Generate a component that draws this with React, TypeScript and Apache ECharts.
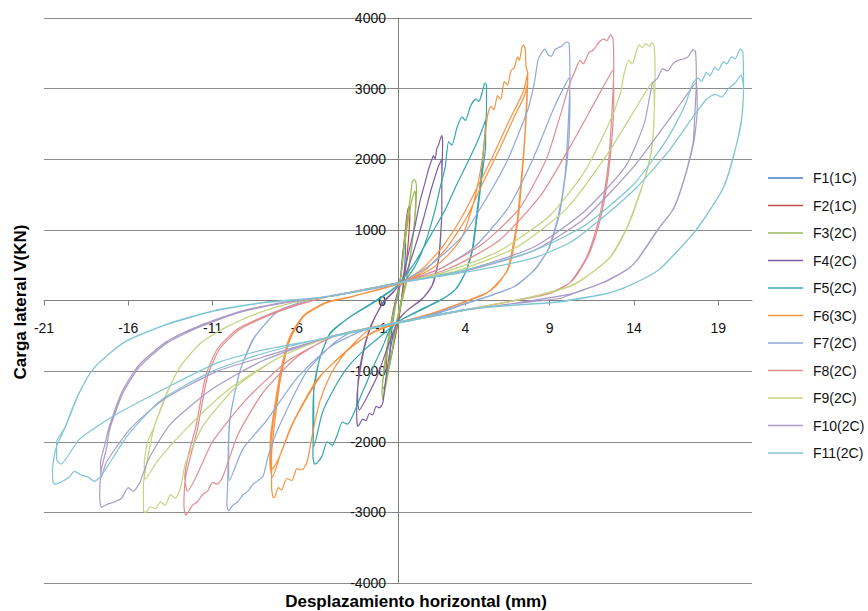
import React, { useEffect, useRef } from "react";
import * as echarts from "echarts";

const xTicks = [-21, -16, -11, -6, -1, 4, 9, 14, 19];
const yMin = -4000;
const yMax = 4000;
const yStep = 1000;

const names = ["F1(1C)", "F2(1C)", "F3(2C)", "F4(2C)", "F5(2C)", "F6(3C)", "F7(2C)", "F8(2C)", "F9(2C)", "F10(2C)", "F11(2C)"];
const colors = ["#4A7EBB", "#BE4B48", "#98B954", "#7D60A0", "#33A6AE", "#F69240", "#8EA9DA", "#E08C90", "#C4D47E", "#A99AC8", "#7FC5D3"];

const f1 = [[0, 0], [0.1, 200], [0.2, 450], [0.3, 700], [0.4, 850], [0.45, 800], [0.4, 500], [0.3, 200], [0.15, -100], [0, -300], [-0.2, -550], [-0.4, -780], [-0.5, -850], [-0.45, -600], [-0.3, -300], [-0.1, 0], [0.1, 220]];

const f2 = [[0, 100], [0.2, 400], [0.35, 800], [0.5, 1150], [0.6, 1300], [0.68, 1330], [0.7, 1200], [0.6, 800], [0.45, 450], [0.25, 100], [0.05, -250], [-0.2, -550], [-0.45, -850], [-0.65, -1050], [-0.7, -950], [-0.6, -650], [-0.4, -300], [-0.15, 0], [0.1, 220]];

const f3 = [[0, 150], [0.2, 400], [0.4, 904], [0.6, 1250], [0.75, 1500], [0.85, 1680], [0.95, 1710], [1.05, 1690], [1.1, 1550], [1.0, 1144], [0.8, 750], [0.6, 438], [0.4, 200], [0.2, 14], [0, -200], [-0.2, -420], [-0.35, -734], [-0.6, -1050], [-0.8, -1300], [-0.9, -1400], [-0.95, -1300], [-0.85, -1050], [-0.65, -750], [-0.5, -500], [-0.3, -250], [-0.1, 0], [0.1, 220],
  [0.3, 600], [0.55, 1050], [0.8, 1400], [1.0, 1550], [1.05, 1450], [0.95, 1050], [0.7, 550], [0.45, 200], [0.2, -50], [0, -250], [-0.3, -650], [-0.6, -1000], [-0.85, -1250], [-0.92, -1200], [-0.8, -900], [-0.55, -500], [-0.3, -200], [-0.05, 50], [0.1, 200]];

const f4 = [[0, 150], [0.2, 250], [0.4, 438], [0.7, 750], [1.0, 1045], [1.3, 1400], [1.6, 1666], [1.8, 1850], [2.0, 1990], [2.1, 2050], [2.2, 2000], [2.3, 2150], [2.4, 2200], [2.5, 2280], [2.6, 2340], [2.65, 2250], [2.6, 1700], [2.6, 1285], [2.4, 579], [2.0, 198], [1.4, 14], [0.5, -150], [0, -280], [-0.3, -500], [-0.6, -900], [-0.8, -1250], [-0.9, -1450], [-1.1, -1520], [-1.3, -1500], [-1.5, -1620], [-1.7, -1600], [-1.9, -1700], [-2.1, -1680], [-2.3, -1760], [-2.4, -1780], [-2.45, -1600], [-2.4, -1257], [-2.1, -790], [-1.8, -500], [-1.5, -310], [-0.9, -28], [-0.3, 120], [0.1, 230],
  [0.5, 400], [1.0, 750], [1.5, 1150], [2.0, 1600], [2.4, 1900], [2.6, 2000], [2.6, 1300], [2.45, 650], [2.1, 250], [1.5, 40], [0.6, -130], [0, -290], [-0.6, -650], [-1.2, -1050], [-1.8, -1350], [-2.3, -1550], [-2.4, -1400], [-2.35, -1100], [-2.05, -700], [-1.6, -350], [-0.9, -40], [-0.3, 110], [0.1, 230]];

const f5 = [[0, 200], [0.3, 250], [0.6, 340], [1.0, 480], [1.4, 678], [1.8, 950], [2.2, 1285], [2.5, 1600], [2.8, 1890], [3.0, 2250], [3.2, 2200], [3.5, 2450], [3.8, 2600], [4.0, 2550], [4.3, 2750], [4.6, 2850], [4.8, 2820], [5.0, 2950], [5.15, 3078], [5.25, 3050], [5.25, 2700], [5.1, 2200], [4.9, 1700], [4.7, 1285], [4.4, 720], [4.0, 395], [3.4, 155], [2.6, 14], [1.5, -120], [0, -300], [-0.5, -420], [-0.9, -650], [-1.3, -850], [-1.7, -1073], [-2.2, -1350], [-2.7, -1638], [-3.0, -1750], [-3.3, -1720], [-3.6, -1900], [-3.9, -2050], [-4.2, -2000], [-4.5, -2200], [-4.8, -2300], [-4.95, -2316], [-5.05, -2200], [-5.0, -1700], [-5.0, -1257], [-4.6, -790], [-4.0, -452], [-2.8, -226], [-1.5, -40], [-0.5, 120], [0, 220],
  [1.0, 536], [2.0, 950], [2.8, 1285], [3.5, 1650], [4.2, 1990], [4.8, 2300], [5.2, 2556], [5.2, 2200], [5.0, 1800], [4.75, 1300], [4.45, 750], [4.05, 420], [3.5, 180], [2.7, 30], [1.5, -110], [0, -300], [-1, -500], [-2, -700], [-3, -950], [-3.8, -1250], [-4.5, -1600], [-5.0, -2070], [-5.05, -1800], [-5.0, -1300], [-4.65, -830], [-4.05, -480], [-2.9, -240], [-1.5, -30], [-0.5, 130], [0, 220]];

const f6 = [[0, 200], [0.3, 250], [1.0, 330], [2.0, 450], [3.0, 650], [3.8, 900], [4.5, 1400], [5.0, 2000], [5.3, 2600], [5.5, 2750], [5.7, 2700], [5.9, 2900], [6.1, 2850], [6.3, 3100], [6.5, 3050], [6.7, 3250], [6.9, 3300], [7.1, 3450], [7.2, 3400], [7.35, 3580], [7.45, 3620], [7.55, 3550], [7.6, 3300], [7.7, 3220], [7.6, 2700], [7.5, 2230], [7.3, 1700], [7.1, 1186], [6.8, 750], [6.5, 438], [5.9, 230], [5.3, 113], [3.8, -28], [2.0, -180], [0, -310], [-1.7, -410], [-2.5, -580], [-3.3, -790], [-4.0, -1050], [-4.6, -1400], [-5.0, -1800], [-5.4, -2290], [-5.7, -2400], [-6.0, -2380], [-6.3, -2550], [-6.6, -2520], [-6.9, -2680], [-7.1, -2650], [-7.3, -2780], [-7.4, -2790], [-7.5, -2650], [-7.5, -2200], [-7.2, -1500], [-6.9, -1020], [-6.4, -550], [-5.6, -226], [-4.2, -28], [-2.7, 56], [-1.0, 170], [0, 230],
  [1.4, 438], [2.6, 750], [3.8, 1186], [4.8, 1650], [5.8, 2132], [6.6, 2550], [7.4, 2937], [7.7, 3220], [7.65, 2800], [7.5, 2200], [7.15, 1200], [6.55, 450], [5.35, 120], [3.8, -30], [2.0, -190], [0, -310], [-1.5, -450], [-2.7, -650], [-4.6, -1073], [-6.2, -1723], [-7.0, -2200], [-7.45, -2500], [-7.6, -2300], [-7.55, -1900], [-7.25, -1400], [-6.95, -980], [-6.45, -530], [-5.6, -210], [-4.2, -20], [-2.7, 60], [0, 230],
  [1.6, 430], [2.9, 750], [4.1, 1186], [5.0, 1650], [6.0, 2132], [6.8, 2550], [7.5, 2900], [7.7, 3100], [7.6, 2600], [7.45, 2100], [7.1, 1150], [6.5, 430], [5.3, 110], [3.8, -35], [2.0, -190], [0, -320], [-1.6, -470], [-2.9, -680], [-4.8, -1120], [-6.3, -1760], [-7.1, -2250], [-7.5, -2400], [-7.55, -2100], [-7.25, -1450], [-6.9, -990], [-6.4, -520], [-5.6, -215], [-4.2, -25], [-2.7, 58], [0, 230]];

const f7 = [[0, 230], [1.8, 480], [3.8, 904], [5.3, 1470], [6.5, 1990], [7.7, 2700], [8.1, 3100], [8.3, 3400], [8.5, 3500], [8.7, 3560], [8.9, 3480], [9.1, 3460], [9.3, 3550], [9.5, 3580], [9.7, 3600], [9.9, 3650], [10.05, 3660], [10.15, 3640], [10.2, 3200], [10.1, 2500], [9.9, 1750], [9.5, 1186], [8.9, 720], [8.1, 438], [6.9, 198], [5.3, 56], [4.0, -40], [2.0, -200], [0, -310], [-1.5, -380], [-2.8, -452], [-3.8, -600], [-4.6, -790], [-5.4, -1000], [-6.0, -1257], [-6.6, -1550], [-7.2, -1864], [-7.7, -2200], [-8.0, -2485], [-8.3, -2550], [-8.6, -2600], [-8.9, -2700], [-9.2, -2750], [-9.5, -2850], [-9.8, -2900], [-10.05, -2980], [-10.15, -2900], [-10.1, -2550], [-10.0, -1723], [-9.4, -1017], [-8.6, -550], [-7.2, -170], [-5.2, 14], [-3, 100], [0, 240],
  [2.5, 450], [4.5, 750], [6.5, 1300], [8.0, 2000], [9.2, 2700], [9.8, 3000], [10.15, 3150], [10.2, 2700], [10.05, 2000], [9.6, 1250], [9.0, 760], [8.2, 460], [7.0, 210], [5.4, 60], [4.0, -50], [2.0, -210], [0, -320], [-2.0, -420], [-4.0, -650], [-6.0, -1100], [-7.8, -1700], [-9.2, -2100], [-10.0, -2550], [-10.05, -2200], [-9.95, -1650], [-9.35, -980], [-8.5, -520], [-7.1, -150], [-5.1, 20], [-3, 110], [0, 240]];

const f8 = [[0, 240], [2.5, 450], [5.0, 800], [7.2, 1300], [8.8, 2000], [9.6, 2600], [10.2, 3078], [10.5, 3250], [10.8, 3400], [11.0, 3350], [11.3, 3500], [11.6, 3550], [11.9, 3650], [12.2, 3700], [12.4, 3680], [12.6, 3760], [12.75, 3720], [12.8, 3300], [12.7, 2697], [12.5, 1990], [12.2, 1470], [11.8, 1045], [11.2, 620], [10.2, 254], [9.0, 100], [7.0, 0], [4.0, -130], [2.0, -220], [0, -310], [-2.0, -400], [-4.0, -520], [-6.0, -800], [-8.0, -1300], [-9.5, -1900], [-10.4, -2500], [-10.7, -2600], [-11.0, -2580], [-11.3, -2700], [-11.6, -2750], [-11.9, -2850], [-12.2, -2900], [-12.45, -3000], [-12.6, -3040], [-12.7, -2900], [-12.6, -2500], [-12.3, -2200], [-11.9, -1820], [-11.3, -1073], [-10.6, -690], [-9.4, -410], [-7.8, -226], [-6.2, -85], [-4, 60], [0, 250],
  [3.0, 450], [6.0, 850], [8.5, 1500], [10.5, 2300], [12.0, 2950], [12.75, 3262], [12.8, 2800], [12.6, 2050], [12.3, 1500], [11.9, 1060], [11.3, 640], [10.3, 270], [9.0, 110], [7.0, 5], [4.0, -135], [0, -315], [-2.0, -410], [-4.0, -530], [-6.5, -850], [-9.0, -1400], [-11.0, -2000], [-12.5, -2700], [-12.65, -2500], [-12.4, -2150], [-12.0, -1800], [-11.4, -1060], [-10.7, -680], [-9.5, -400], [-7.9, -220], [-6.3, -80], [-4, 60], [0, 250]];

const f9 = [[0, 240], [3.0, 420], [6.0, 700], [9.0, 1200], [11.0, 1800], [12.5, 2500], [13.2, 2937], [13.4, 3200], [13.7, 3400], [13.9, 3350], [14.1, 3500], [14.3, 3620], [14.5, 3580], [14.7, 3640], [14.9, 3600], [15.05, 3650], [15.2, 3600], [15.25, 3200], [15.2, 2697], [15.1, 2230], [14.8, 1850], [14.2, 1426], [13.6, 1045], [12.6, 620], [11.2, 340], [10.2, 198], [8.0, 50], [6.0, -40], [4.0, -130], [0, -310], [-4.0, -510], [-7.0, -800], [-9.5, -1200], [-11.5, -1750], [-12.6, -2300], [-12.9, -2650], [-13.2, -2800], [-13.5, -2750], [-13.8, -2900], [-14.1, -2850], [-14.4, -2950], [-14.7, -2920], [-14.95, -3000], [-15.1, -2980], [-15.1, -2600], [-14.9, -2300], [-14.5, -1820], [-13.7, -1300], [-12.9, -930], [-11.7, -600], [-10.1, -367], [-8.2, -170], [-6.4, -40], [-4, 60], [0, 250],
  [3.5, 420], [7.0, 750], [10.0, 1300], [12.5, 2100], [14.3, 2800], [15.1, 3092], [15.2, 2700], [15.1, 2250], [14.8, 1870], [14.25, 1440], [13.65, 1060], [12.65, 630], [11.25, 350], [10.2, 205], [8.0, 55], [4.0, -135], [0, -315], [-4.0, -515], [-7.0, -800], [-10.0, -1250], [-12.5, -1800], [-14.2, -2250], [-15.0, -2530], [-15.05, -2300], [-14.85, -2000], [-14.45, -1780], [-13.65, -1280], [-12.85, -910], [-11.65, -590], [-10.0, -355], [-8.1, -160], [-6.3, -35], [-4, 60], [0, 250]];

const f10 = [[0, 245], [4.0, 430], [8.0, 750], [11.0, 1250], [13.5, 1900], [14.6, 2500], [15.1, 3078], [15.4, 3150], [15.7, 3280], [16.0, 3250], [16.3, 3350], [16.6, 3400], [16.9, 3420], [17.2, 3450], [17.5, 3550], [17.65, 3530], [17.7, 3100], [17.6, 2600], [17.5, 2230], [16.9, 1666], [16.3, 1285], [15.4, 1000], [14.2, 579], [13.6, 438], [12.2, 254], [10.2, 80], [9.6, 28], [7.0, -40], [4.0, -130], [0, -310], [-4.0, -510], [-8.0, -850], [-11.0, -1250], [-13.5, -1750], [-14.8, -2250], [-15.3, -2570], [-15.7, -2700], [-16.0, -2650], [-16.4, -2800], [-16.8, -2850], [-17.2, -2880], [-17.6, -2930], [-17.7, -2750], [-17.6, -2400], [-17.3, -2100], [-17.1, -1820], [-16.3, -1300], [-15.3, -930], [-13.7, -600], [-11.7, -367], [-9.4, -170], [-6.6, -28], [-4, 60], [0, 250],
  [4.0, 420], [8.0, 700], [11.0, 1150], [14.0, 1900], [16.5, 2700], [17.7, 3092], [17.75, 2700], [17.55, 2250], [16.95, 1690], [16.35, 1300], [15.45, 1010], [14.25, 590], [13.65, 450], [12.25, 265], [10.2, 90], [7.0, -35], [4.0, -135], [0, -315], [-4.0, -515], [-8.0, -800], [-10.7, -1000], [-13.9, -1400], [-15.9, -1820], [-17.3, -2290], [-17.6, -2500], [-17.65, -2300], [-17.4, -2050], [-17.15, -1800], [-16.35, -1280], [-15.35, -910], [-13.75, -585], [-11.75, -355], [-9.45, -160], [-6.6, -20], [-4, 60], [0, 250]];

const f11 = [[0, 250], [4.0, 430], [8.0, 700], [11.0, 1050], [14.0, 1650], [16.0, 2300], [17.0, 2750], [17.5, 3078], [17.8, 3150], [18.0, 3100], [18.3, 3230], [18.5, 3180], [18.8, 3300], [19.0, 3260], [19.3, 3380], [19.5, 3350], [19.8, 3450], [20.0, 3420], [20.3, 3560], [20.45, 3520], [20.5, 3100], [20.4, 2600], [19.9, 2033], [19.4, 1650], [18.9, 1426], [17.7, 1000], [16.5, 680], [15.5, 438], [14.0, 240], [12.6, 113], [9.6, -14], [6.0, -80], [4.0, -130], [0, -310], [-4.0, -510], [-8.0, -750], [-11.0, -1000], [-14.0, -1400], [-16.0, -1900], [-17.6, -2480], [-18.0, -2560], [-18.4, -2500], [-18.8, -2470], [-19.2, -2420], [-19.5, -2500], [-19.9, -2560], [-20.3, -2600], [-20.45, -2580], [-20.5, -2400], [-20.3, -2100], [-19.8, -1820], [-19.0, -1350], [-18.1, -975], [-16.3, -600], [-13.7, -340], [-11.0, -155], [-7.8, -28], [-4.0, 60], [0, 250],
  [4.0, 400], [8.0, 600], [10.2, 820], [12.2, 1186], [14.2, 1610], [16.1, 2130], [17.5, 2600], [18.3, 2850], [18.8, 2920], [19.2, 2880], [19.6, 3000], [20.0, 3080], [20.35, 3190], [20.5, 3000], [20.35, 2500], [19.85, 2000], [19.35, 1630], [18.85, 1410], [17.65, 990], [16.45, 670], [15.45, 430], [13.95, 235], [12.55, 108], [9.6, -20], [6.0, -85], [4.0, -135], [0, -320], [-4.0, -520], [-8.0, -700], [-10.7, -880], [-13.9, -1257], [-16.9, -1638], [-18.9, -1963], [-20.0, -2316], [-20.25, -2250], [-20.25, -2000], [-19.75, -1800], [-18.95, -1330], [-18.05, -960], [-16.25, -590], [-13.65, -330], [-10.95, -145], [-7.75, -20], [-4.0, 60], [0, 250]];

const seriesData = [f1, f2, f3, f4, f5, f6, f7, f8, f9, f10, f11];

const FONT = "'Liberation Sans', Arial, Helvetica, sans-serif";

// grid geometry
const GL = 44, GR = 116, GT = 18, GB = 28, W = 868, H = 611;

export default function App() {
  const ref = useRef<HTMLDivElement>(null);
  useEffect(() => {
    if (!ref.current) return;
    const chart = echarts.init(ref.current, undefined, { renderer: "svg" });
    const axisColor = "#7f7f7f";
    const plotW = W - GL - GR;
    const plotH = H - GT - GB;
    // move axes so they cross at (0, 0)
    const yAxisOffset = -plotW * (0 - -21) / 42;
    const xAxisOffset = -plotH * (0 - yMin) / (yMax - yMin);
    chart.setOption({
      animation: false,
      backgroundColor: "#ffffff",
      textStyle: { fontFamily: FONT },
      grid: { left: GL, right: GR, top: GT, bottom: GB, containLabel: false },
      xAxis: {
        type: "value",
        min: -21,
        max: 21,
        interval: 5,
        position: "bottom",
        offset: xAxisOffset,
        axisLine: { show: true, onZero: false, lineStyle: { color: axisColor, width: 1 } },
        axisTick: { show: true, length: 5, customValues: xTicks, lineStyle: { color: axisColor } },
        axisLabel: { customValues: xTicks, margin: 20, fontSize: 14, color: "#111", fontFamily: FONT },
        splitLine: { show: false },
      },
      yAxis: {
        type: "value",
        min: yMin,
        max: yMax,
        interval: yStep,
        position: "left",
        offset: yAxisOffset,
        axisLine: { show: true, onZero: false, lineStyle: { color: axisColor, width: 1 } },
        axisTick: { show: true, length: 5, lineStyle: { color: axisColor } },
        axisLabel: { margin: 12, fontSize: 14, color: "#111", fontFamily: FONT, formatter: (v: number) => String(v) },
        splitLine: { show: true, lineStyle: { color: "#8c8c8c", width: 1 } },
      },
      legend: {
        orient: "vertical",
        left: 763,
        top: 165,
        icon: "rect",
        itemWidth: 35,
        itemHeight: 1.5,
        itemGap: 11.5,
        data: names,
        textStyle: { fontSize: 14, lineHeight: 16, color: "#111", fontFamily: FONT, padding: [0, 0, 0, 5] },
      },
      graphic: [
        {
          type: "text",
          x: 416,
          y: 601,
          style: { text: "Desplazamiento horizontal (mm)", font: `bold 17px ${FONT}`, fill: "#000", textAlign: "center", textVerticalAlign: "middle" },
        },
        {
          type: "text",
          x: 20,
          y: 302,
          rotation: Math.PI / 2,
          style: { text: "Carga lateral V(KN)", font: `bold 17px ${FONT}`, fill: "#000", textAlign: "center", textVerticalAlign: "middle" },
        },
      ],
      series: seriesData.map((d, i) => ({
        type: "line",
        name: names[i],
        data: d,
        showSymbol: false,
        symbol: "none",
        smooth: 0.2,
        lineStyle: { width: 1.2, color: colors[i] },
        itemStyle: { color: colors[i] },
        emphasis: { disabled: true },
      })),
    });
    return () => chart.dispose();
  }, []);
  return <div ref={ref} style={{ position: "fixed", left: 0, top: 0, width: W, height: H }} />;
}
